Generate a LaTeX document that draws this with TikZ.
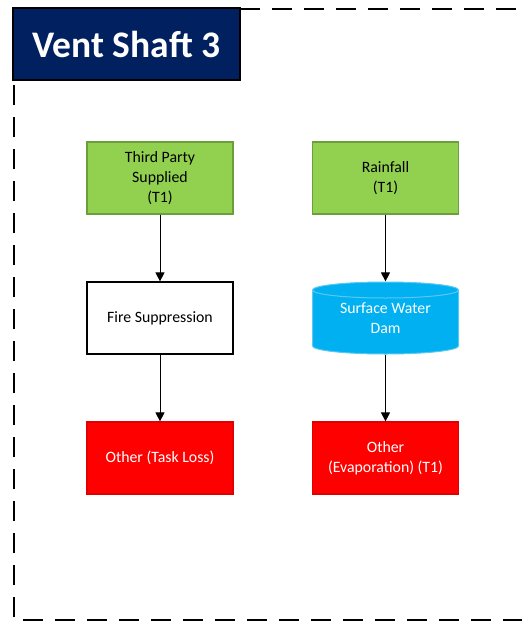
\documentclass[tikz,border=0pt]{standalone}
\usepackage{fontspec}
\setmainfont{Carlito}
\usetikzlibrary{arrows.meta}
\definecolor{navy}{HTML}{002060}
\definecolor{leaf}{HTML}{92D050}
\definecolor{leafedge}{HTML}{6E9E3C}
\definecolor{sky}{HTML}{00B0F0}
\definecolor{skyedge}{HTML}{5CC8F0}
\definecolor{alarm}{HTML}{FF0000}
\definecolor{alarmedge}{HTML}{E00000}
\tikzset{
  box/.style={rectangle, minimum width=146pt, minimum height=72pt, inner sep=2pt,
    align=center, font=\fontsize{15.8}{20}\selectfont, line width=1.2pt},
  source/.style={box, fill=leaf, draw=leafedge, text=black},
  usebox/.style={box, fill=white, draw=black},
  lossbox/.style={box, fill=alarm, draw=alarmedge, text=white},
  tank/.style={box, draw=none, text=white},
  flow/.style={-{Triangle[length=9pt,width=9pt]}, line width=0.9pt, black},
  frame/.style={line width=2.4pt, dash pattern=on 20pt off 12pt},
}
\begin{document}
\begin{tikzpicture}[x=1pt,y=-1pt]
\useasboundingbox (0,0) rectangle (522,624);
\clip (0,0) rectangle (522,624);

% dashed outline of the site area
\draw[frame] (240,9) -- (540,9) -- (540,620) -- (14,620) -- (14,80);

% title block
\node[rectangle, fill=navy, draw=black, line width=1.2pt, minimum width=227pt,
  minimum height=72pt, text=white, font=\fontsize{37.5}{40}\selectfont\bfseries]
  (title) at (126.5,44) {Vent Shaft 3};

% left column
\node[source] (tps) at (160,178) {Third Party\\Supplied\\(T1)};
\node[usebox] (fire) at (160,318) {Fire Suppression};
\node[lossbox] (task) at (160,458) {Other (Task Loss)};

% right column: dam drawn as a cylinder (y axis points down here)
\fill[sky] (312.5,290) -- (312.5,346) arc[start angle=180, end angle=0, x radius=73, y radius=8]
  -- (458.5,290) arc[start angle=0, end angle=-180, x radius=73, y radius=8] -- cycle;
\draw[skyedge, line width=1pt] (312.5,290) -- (312.5,346) arc[start angle=180, end angle=0, x radius=73, y radius=8]
  -- (458.5,290) arc[start angle=0, end angle=-180, x radius=73, y radius=8];
\draw[skyedge, line width=1pt] (312.5,290) arc[start angle=180, end angle=0, x radius=73, y radius=8];

\node[source] (rain) at (385.5,178) {Rainfall\\(T1)};
\node[tank] (dam) at (385.5,318) {Surface Water\\Dam};
\node[lossbox] (evap) at (385.5,458) {Other\\(Evaporation) (T1)};

% flows
\draw[flow] (tps) -- (fire);
\draw[flow] (fire) -- (task);
\draw[flow] (rain) -- (dam);
\draw[flow] (dam) -- (evap);
\end{tikzpicture}
\end{document}
